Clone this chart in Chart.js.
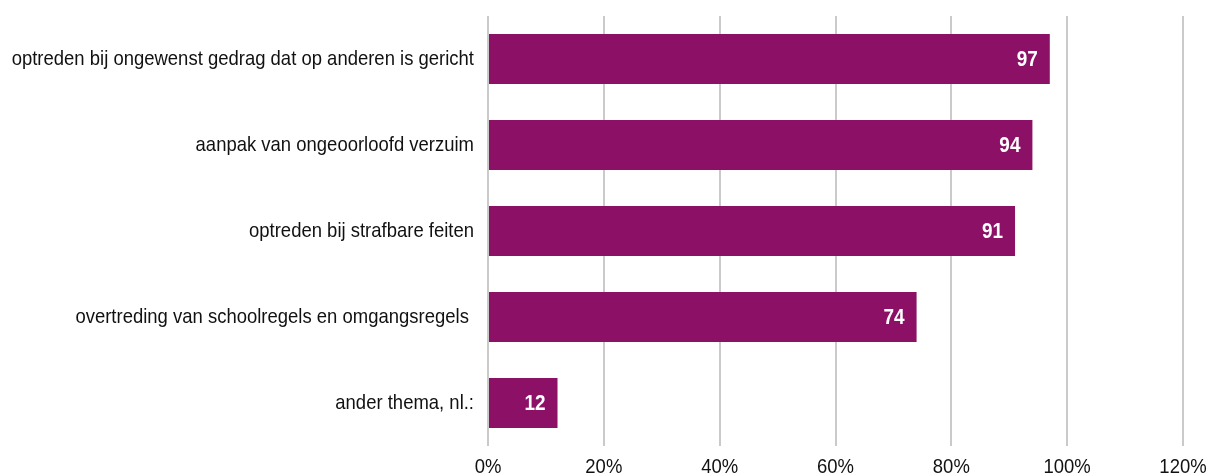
<!DOCTYPE html>
<html lang="nl">
<head>
    <meta charset="UTF-8">
    <title>Thema's</title>
    <script src="https://cdn.jsdelivr.net/npm/chart.js"></script>
    <style>
        html, body {
            margin: 0;
            padding: 0;
            overflow: hidden;
            background-color: #fff;
        }
    </style>
</head>
<body>
    <canvas id="myChart" width="1210" height="482"></canvas>

    <script>
        // Gegevens
        const categories = [
            'optreden bij ongewenst gedrag dat op anderen is gericht',
            'aanpak van ongeoorloofd verzuim',
            'optreden bij strafbare feiten',
            'overtreding van schoolregels en omgangsregels ',
            'ander thema, nl.:'
        ];
        const percentages = [97, 94, 91, 74, 12];
        const xTicks = [0, 20, 40, 60, 80, 100, 120];

        const fontFamily = "'Liberation Sans', Arial, sans-serif";

        // smalle tekst: horizontaal samengedrukt tekenen
        function narrowText(c, text, x, y, align, squeeze) {
            c.save();
            c.translate(x, y);
            c.scale(squeeze, 1);
            c.textAlign = align;
            c.fillText(text, 0, 0);
            c.restore();
        }

        // categorie-labels, as-labels en waarden in de balken
        const labelsPlugin = {
            id: 'labelsPlugin',
            afterDatasetsDraw(chart) {
                const c = chart.ctx;
                const meta = chart.getDatasetMeta(0);
                const xs = chart.scales.x;
                c.save();
                c.textBaseline = 'middle';

                c.fillStyle = '#111';
                c.font = '21px ' + fontFamily;
                meta.data.forEach((bar, i) => {
                    narrowText(c, categories[i], xs.left - 14, bar.y, 'right', 0.88);
                });
                xTicks.forEach(v => {
                    narrowText(c, v + '%', xs.getPixelForValue(v), 467, 'center', 0.88);
                });

                c.fillStyle = '#ffffff';
                c.font = 'bold 22px ' + fontFamily;
                meta.data.forEach((bar, i) => {
                    narrowText(c, String(percentages[i]), bar.x - 12, bar.y + 1, 'right', 0.86);
                });
                c.restore();
            }
        };

        const ctx = document.getElementById('myChart').getContext('2d');
        const myChart = new Chart(ctx, {
            type: 'bar',
            data: {
                labels: categories,
                datasets: [{
                    data: percentages,
                    backgroundColor: '#8b1066',
                    borderWidth: 0,
                    barPercentage: 0.58,
                    categoryPercentage: 1
                }]
            },
            options: {
                indexAxis: 'y',
                responsive: false,
                animation: false,
                layout: {
                    padding: { top: 16, right: 27, left: 488, bottom: 36 }
                },
                plugins: {
                    legend: { display: false },
                    tooltip: { enabled: false }
                },
                scales: {
                    x: {
                        min: 0,
                        max: 120,
                        afterBuildTicks: (scale) => {
                            scale.ticks = xTicks.map(v => ({ value: v }));
                        },
                        border: { display: false },
                        grid: {
                            color: '#cacaca',
                            lineWidth: 2,
                            drawTicks: false
                        },
                        ticks: { display: false }
                    },
                    y: {
                        display: false
                    }
                }
            },
            plugins: [labelsPlugin]
        });
    </script>
</body>
</html>
